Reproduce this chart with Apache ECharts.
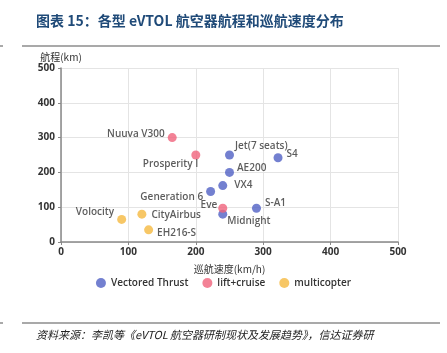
<!DOCTYPE html>
<html>
<head>
<meta charset="utf-8">
<script src="https://cdn.jsdelivr.net/npm/echarts@6/dist/echarts.min.js"></script>
<style>
  html, body { margin: 0; padding: 0; background: #fff; }
  #chart { width: 447px; height: 353px; }
</style>
</head>
<body>
<div id="chart"></div>
<script>
  // 巡航速度 (km/h), 航程 (km)
  const vectoredNames = ['Jet(7 seats)', 'AE200', 'VX4', 'Generation 6', 'Midnight', 'S4', 'S-A1']
  const vectoredSpeed = [250, 250, 240, 222, 240, 322, 290]
  const vectoredRange = [250, 200, 162, 145, 80, 242, 97]

  const liftNames = ['Nuuva V300', 'Prosperity I', 'Eve']
  const liftSpeed = [165, 200, 240]
  const liftRange = [300, 250, 97]

  const multiNames = ['Volocity', 'CityAirbus', 'EH216-S']
  const multiSpeed = [90, 120, 130]
  const multiRange = [65, 80, 35]

  const seriesNames = ['Vectored Thrust', 'lift+cruise', 'multicopter']
  const colors = ['#5060c4', '#f0637c', '#f5b940']

  // label placement per point
  const labelPos = {
    'Jet(7 seats)': { position: 'right', offset: [-4, -9] },
    'AE200': { position: 'right', offset: [-2, -4] },
    'VX4': { position: 'right', offset: [2, 0] },
    'Generation 6': { position: 'left', offset: [2, 6] },
    'Midnight': { position: 'right', offset: [-5, 7] },
    'S4': { position: 'right', offset: [-1, -4] },
    'S-A1': { position: 'right', offset: [-1, -5] },
    'Nuuva V300': { position: 'left', offset: [2, -3] },
    'Prosperity I': { position: 'left', offset: [12, 9] },
    'Eve': { position: 'left', offset: [4, -3] },
    'Volocity': { position: 'left', offset: [2, -7] },
    'CityAirbus': { position: 'right', offset: [0, 1] },
    'EH216-S': { position: 'right', offset: [-1, 3] }
  }

  function buildData(names, xs, ys) {
    return names.map(function (n, i) {
      return { name: n, value: [xs[i], ys[i]], label: labelPos[n] }
    })
  }

  const chart = echarts.init(document.getElementById('chart'))

  function scatter(name, data, color) {
    return {
      name: name,
      type: 'scatter',
      symbolSize: 9,
      itemStyle: { color: color },
      label: {
        show: true,
        formatter: '{b}',
        color: '#333',
        fontSize: 10,
        fontFamily: 'Open Sans',
        fontWeight: 600
      },
      data: data
    }
  }

  chart.setOption({
    animation: false,
    title: {
      text: '图表 15：各型 eVTOL 航空器航程和巡航速度分布',
      left: 31,
      top: 9,
      textStyle: {
        color: '#1f4a78',
        fontSize: 14,
        fontWeight: 'bold',
        fontFamily: 'Noto Sans CJK SC'
      }
    },
    graphic: [
      { type: 'line', shape: { x1: 22, y1: 46, x2: 440, y2: 46 }, style: { stroke: '#555', lineWidth: 1.2 } },
      { type: 'line', shape: { x1: 0, y1: 46, x2: 3, y2: 46 }, style: { stroke: '#555', lineWidth: 1 } },
      { type: 'line', shape: { x1: 22, y1: 323, x2: 440, y2: 323 }, style: { stroke: '#555', lineWidth: 1.2 } },
      { type: 'line', shape: { x1: 0, y1: 323, x2: 3, y2: 323 }, style: { stroke: '#555', lineWidth: 1 } },
      {
        type: 'text',
        left: 36,
        top: 329,
        style: {
          text: '资料来源：李凯等《eVTOL 航空器研制现状及发展趋势》，信达证券研',
          fill: '#222',
          font: 'italic 11px "Noto Sans CJK SC"'
        }
      }
    ],
    legend: {
      bottom: 60,
      left: 'center',
      itemWidth: 10,
      itemHeight: 10,
      itemGap: 14,
      icon: 'circle',
      data: seriesNames,
      textStyle: { color: '#333', fontSize: 10, fontFamily: 'Open Sans', fontWeight: 600 }
    },
    grid: { left: 61, right: 49, top: 68, bottom: 111, containLabel: false },
    xAxis: {
      type: 'value',
      min: 0,
      max: 500,
      interval: 100,
      name: '巡航速度(km/h)',
      nameLocation: 'middle',
      nameGap: 22,
      nameTextStyle: { color: '#333', fontSize: 10, fontFamily: 'Noto Sans CJK SC' },
      axisLine: { show: true, lineStyle: { color: '#888', width: 1.5 } },
      axisTick: { show: true, length: 3, lineStyle: { color: '#888' } },
      axisLabel: { color: '#333', fontSize: 10, fontWeight: 'bold', fontFamily: 'Open Sans', margin: 5 },
      splitLine: { show: true, lineStyle: { color: '#e4e4e4' } }
    },
    yAxis: {
      type: 'value',
      min: 0,
      max: 500,
      interval: 100,
      name: '航程(km)',
      nameGap: 6,
      nameTextStyle: { color: '#333', fontSize: 10, fontFamily: 'Noto Sans CJK SC' },
      axisLine: { show: true, lineStyle: { color: '#888', width: 1.5 } },
      axisTick: { show: true, length: 3, lineStyle: { color: '#888' } },
      axisLabel: { color: '#333', fontSize: 10, fontWeight: 'bold', fontFamily: 'Open Sans', margin: 6 },
      splitLine: { show: true, lineStyle: { color: '#e4e4e4' } }
    },
    series: [
      scatter(seriesNames[0], buildData(vectoredNames, vectoredSpeed, vectoredRange), colors[0]),
      scatter(seriesNames[1], buildData(liftNames, liftSpeed, liftRange), colors[1]),
      scatter(seriesNames[2], buildData(multiNames, multiSpeed, multiRange), colors[2])
    ]
  })
</script>
</body>
</html>
